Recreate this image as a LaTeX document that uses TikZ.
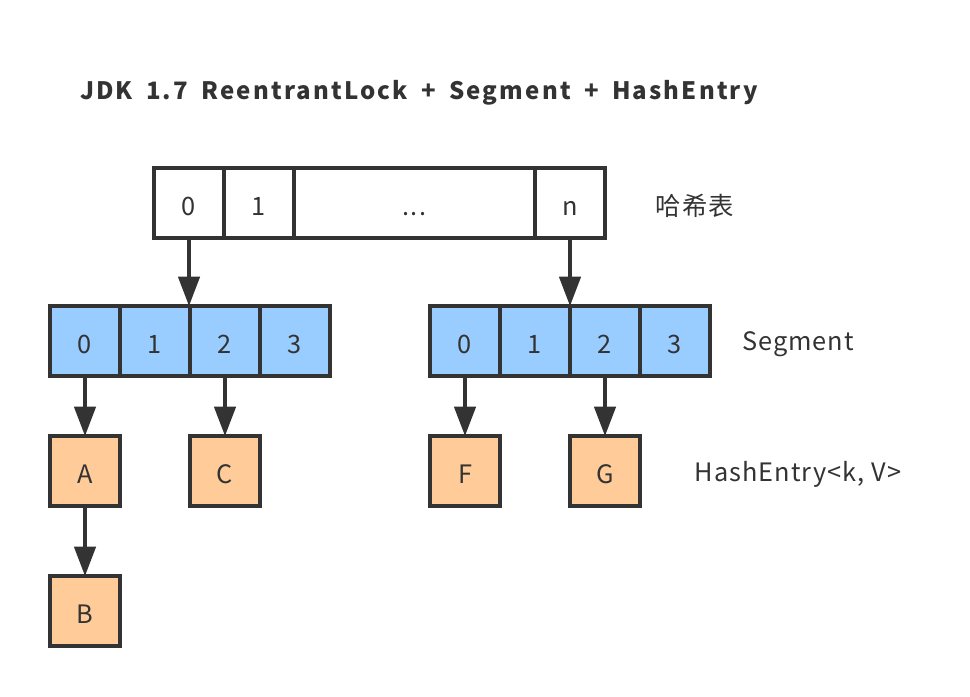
\documentclass[tikz,border=0pt]{standalone}
\usepackage{fontspec}
\setmainfont{Noto Sans CJK SC}[LetterSpace=4]
\usetikzlibrary{arrows.meta}
\definecolor{linegray}{HTML}{333333}
\definecolor{segblue}{HTML}{99CCFF}
\definecolor{entryorange}{HTML}{FFCC99}
\newcommand{\titlefont}{\fontsize{18}{22}\bfseries\addfontfeature{LetterSpace=9}\spaceskip=10pt\relax}

\begin{document}
\begin{tikzpicture}[x=0.75pt,y=-0.75pt,line width=2.6pt,draw=linegray,text=linegray]
  \tikzstyle{every node}=[font=\fontsize{19}{22}\selectfont,inner sep=0pt,outer sep=0pt]
  \tikzstyle{cell}=[draw,minimum width=52.5pt,minimum height=52.5pt,text height=18.5pt,text depth=0pt]
  \tikzstyle{segcell}=[cell,fill=segblue]
  \tikzstyle{entry}=[cell,fill=entryorange]
  \tikzstyle{link}=[-{Triangle[length=22pt,width=16pt]},draw=linegray]

  \useasboundingbox (0,0) rectangle (970,696);

  % title
  \node[anchor=west,font=\titlefont] (title) at (80,93) {JDK 1.7 ReentrantLock + Segment + HashEntry};

  % hash table
  \node[cell] (h0) at (189,203) {0};
  \node[cell] (h1) at (259,203) {1};
  \node[cell,minimum width=180.75pt] (hdots) at (414.5,203) {...};
  \node[cell] (hn) at (570,203) {n};
  \node (hlabel) at (695,206) {哈希表};

  % segments
  \foreach \i in {0,...,3} {
    \node[segcell] (sa\i) at (85+70*\i,341) {\i};
    \node[segcell] (sb\i) at (465+70*\i,341) {\i};
  }
  \node (slabel) at (798,344) {Segment};

  % hash entries
  \node[entry] (A) at (85,471) {A};
  \node[entry] (B) at (85,611) {B};
  \node[entry] (C) at (225,471) {C};
  \node[entry] (F) at (465,471) {F};
  \node[entry] (G) at (605,471) {G};
  \node (elabel) at (798,474) {HashEntry<k, V>};

  \draw[link] (h0.south) -- (h0.south |- sa1.north);
  \draw[link] (hn.south) -- (hn.south |- sb2.north);
  \draw[link] (sa0) -- (A);
  \draw[link] (sa2) -- (C);
  \draw[link] (sb0) -- (F);
  \draw[link] (sb2) -- (G);
  \draw[link] (A) -- (B);
\end{tikzpicture}
\end{document}
